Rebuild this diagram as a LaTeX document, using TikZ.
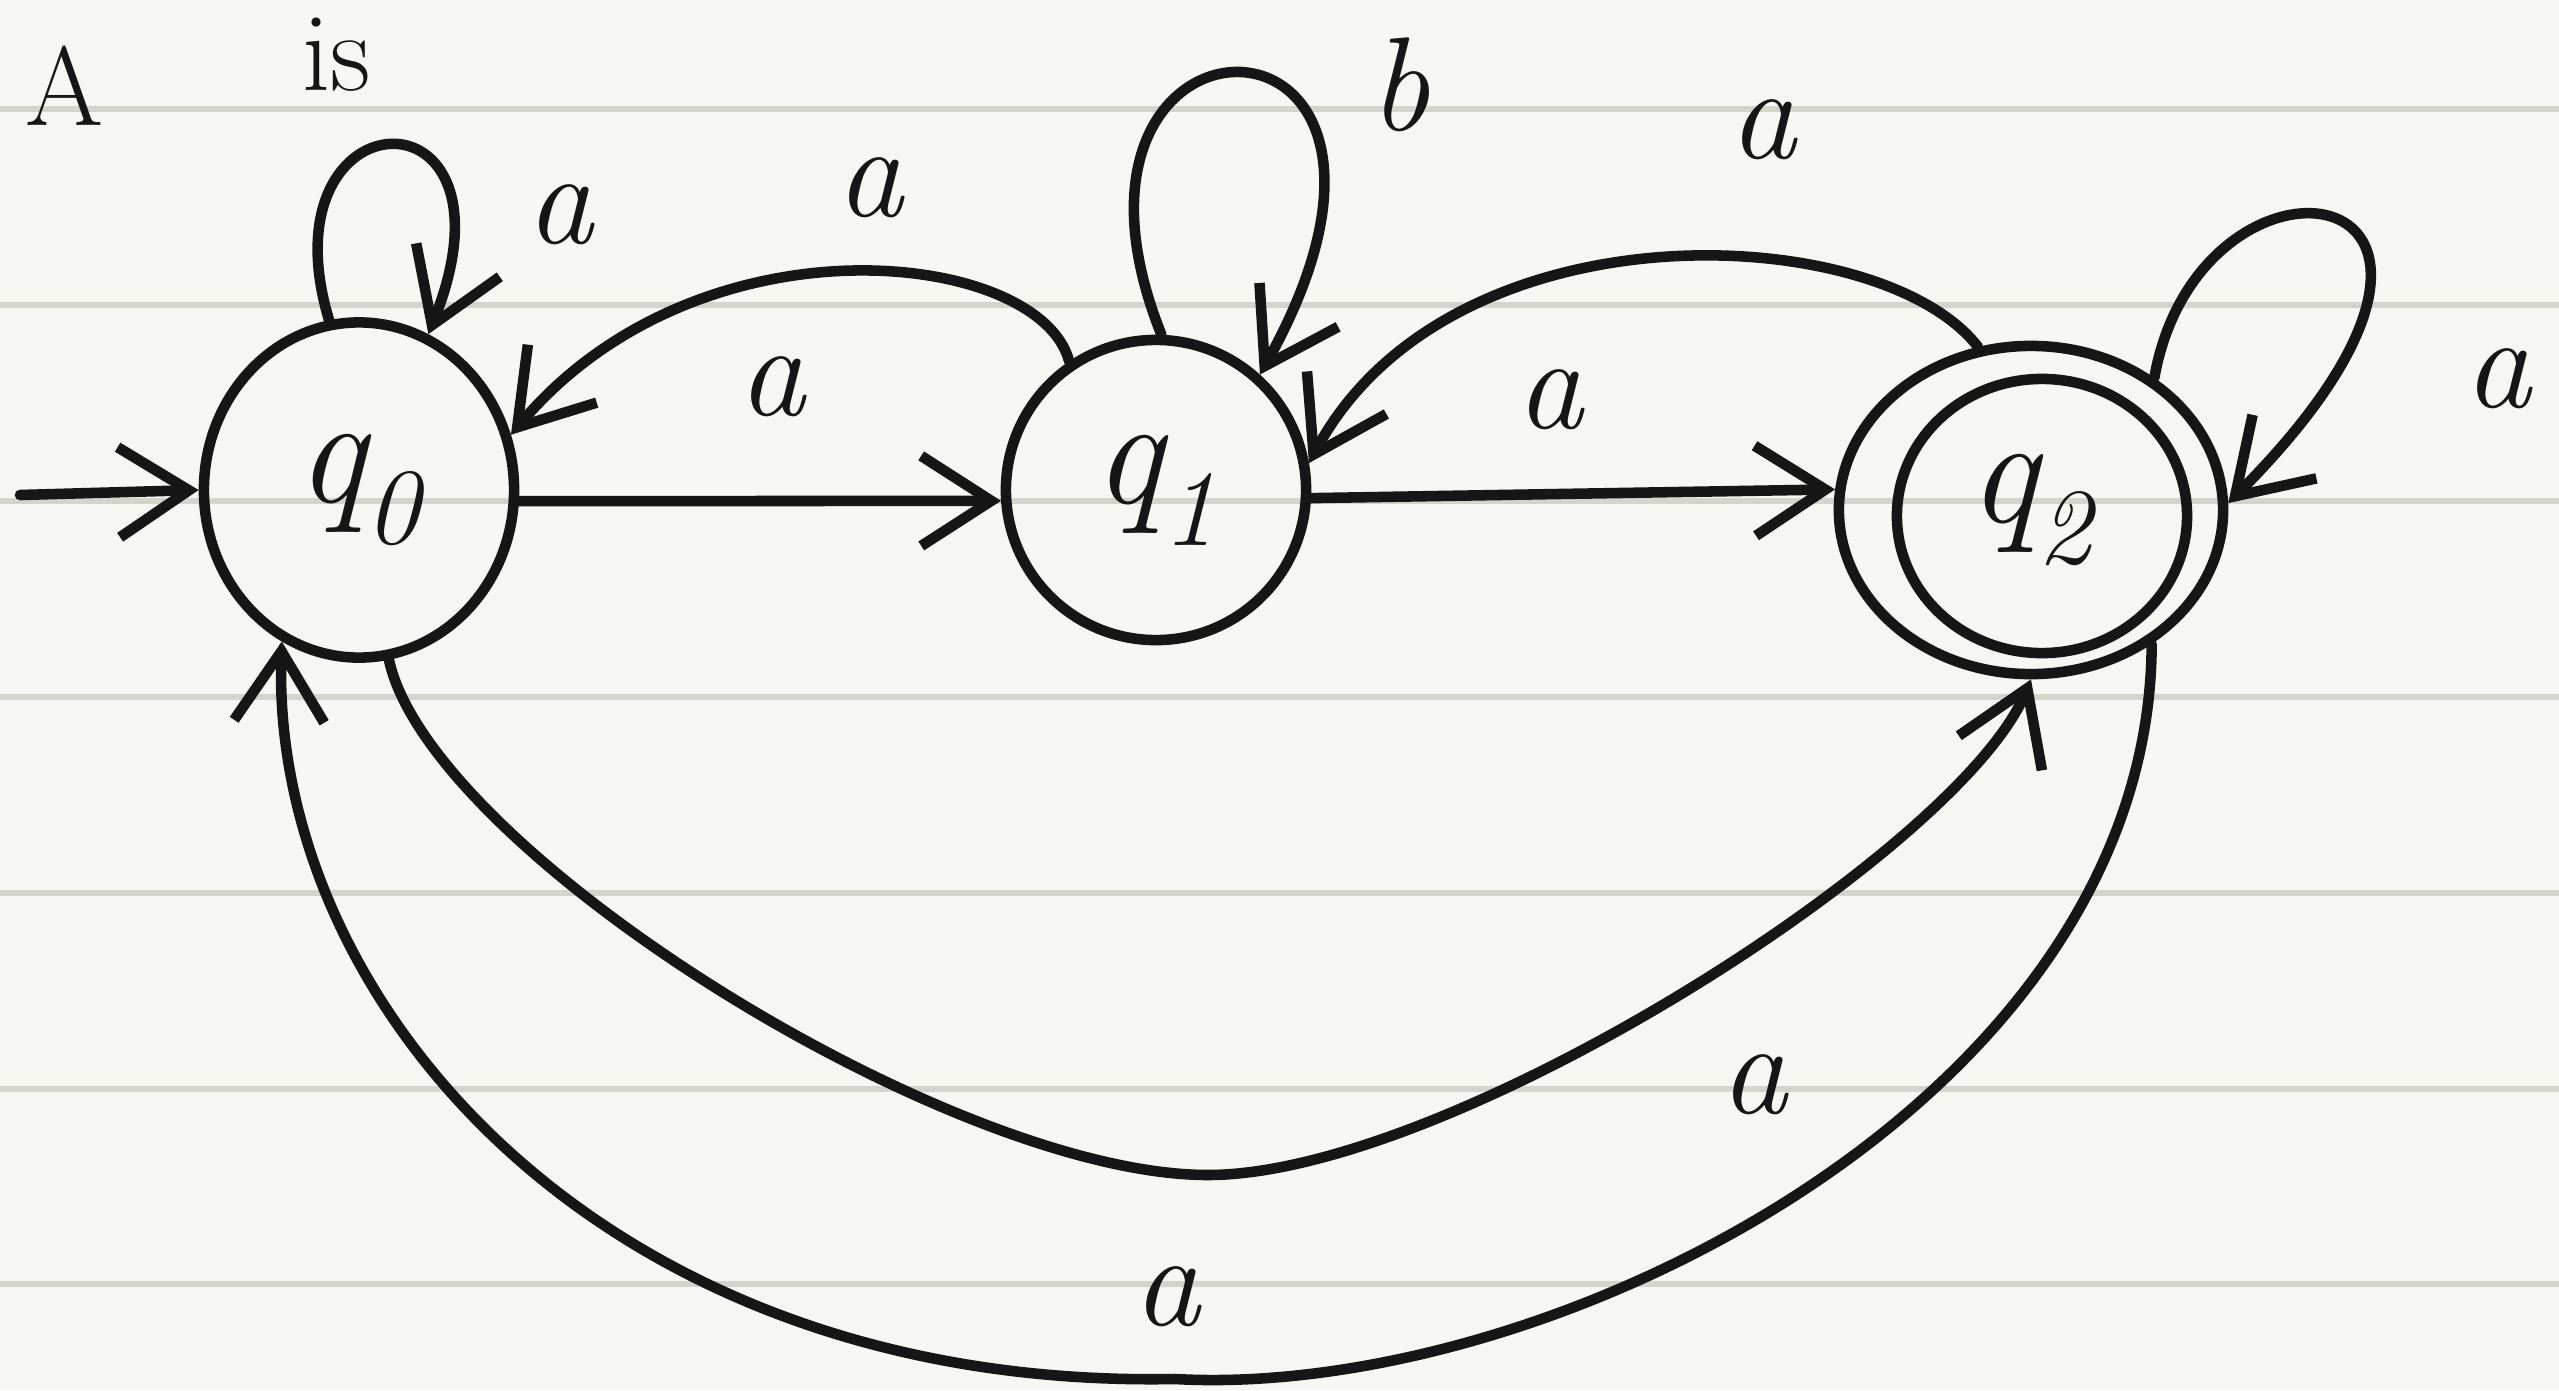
\documentclass[tikz,border=0pt]{standalone}
\usepackage{fontspec}
\usepackage{xcolor}
\usetikzlibrary{arrows.meta, shapes.geometric, positioning}
\definecolor{ink}{HTML}{161616}
\definecolor{paper}{HTML}{F6F7F2}
\definecolor{ruling}{HTML}{D4D4CD}

\begin{document}
\begin{tikzpicture}[
    x=0.01cm, y=0.01cm,
    line width=3pt, line cap=round, line join=round,
    >={Straight Barb[length=7mm, width=9mm]},
    state/.style={ellipse, draw=ink, inner sep=0pt, text=ink, font=\fontsize{44}{48}\selectfont\itshape},
    lbl/.style={inner sep=0pt, text=ink, font=\fontsize{38}{42}\selectfont\itshape},
    edge/.style={draw=ink, ->},
]
    \useasboundingbox[fill=paper] (0,0) rectangle (2559,-1390);
    \foreach \y in {109,305,501,697,893,1089,1284}
        \draw[ruling, line width=1.5pt] (0,-\y) -- (2559,-\y);

    \node[lbl, font=\fontsize{32}{36}\selectfont] (word) at (64,-86) {A};
    \node[lbl, font=\fontsize{32}{36}\selectfont] (verb) at (337,-55) {is};

    % states
    \node[state, minimum width=3.1cm, minimum height=3.35cm] (q0) at (359,-490) {q\textsubscript{0}};
    \node[state, minimum width=3.0cm, minimum height=3.0cm] (q1) at (1156,-490) {q\textsubscript{1}};
    \node[state, minimum width=3.84cm, minimum height=3.28cm] (q2) at (2031,-510) {q\textsubscript{2}};
    \node[state, minimum width=2.9cm, minimum height=2.74cm] (q2in) at (2042,-516) {};

    \coordinate (init) at (20,-495);
    \draw[edge] (init) -- (q0.west);

    % straight transitions
    \draw[edge] (q0.-4) -- (q1.184);
    \draw[edge] (q1.-3) -- (q2.174);

    % upper arcs
    \draw[edge] (q1.124) .. controls (1040,-250) and (700,-210) .. (q0.20);
    \draw[edge] (q2.108) .. controls (1880,-220) and (1450,-200) .. (q1.10);

    % self loops
    \draw[edge] (q0.100) .. controls (260,-90) and (530,-80) .. (q0.66);
    \draw[edge] (q1.88) .. controls (1020,20) and (1480,20) .. (q1.48);
    \draw[edge] (q2.47) .. controls (2200,-120) and (2560,-170) .. (q2.2);

    % lower arcs
    \draw[edge] (q0.-80) .. controls (430,-850) and (950,-1175) .. (1208,-1175)
        .. controls (1450,-1175) and (1960,-850) .. (q2.-90);
    \draw[edge] (q2.-48) .. controls (2150,-1100) and (1550,-1400) .. (1175,-1379)
        .. controls (600,-1390) and (270,-1000) .. (q0.-117);

    % labels
    \node[lbl] (l00) at (560,-215) {a};
    \node[lbl] (l10) at (870,-188) {a};
    \node[lbl] (l01) at (772,-387) {a};
    \node[lbl] (l11) at (1400,-85) {b};
    \node[lbl] (l21) at (1763,-130) {a};
    \node[lbl] (l12) at (1550,-400) {a};
    \node[lbl] (l22) at (2498,-379) {a};
    \node[lbl] (l02) at (1754,-1085) {a};
    \node[lbl] (l20) at (1167,-1297) {a};
\end{tikzpicture}
\end{document}
